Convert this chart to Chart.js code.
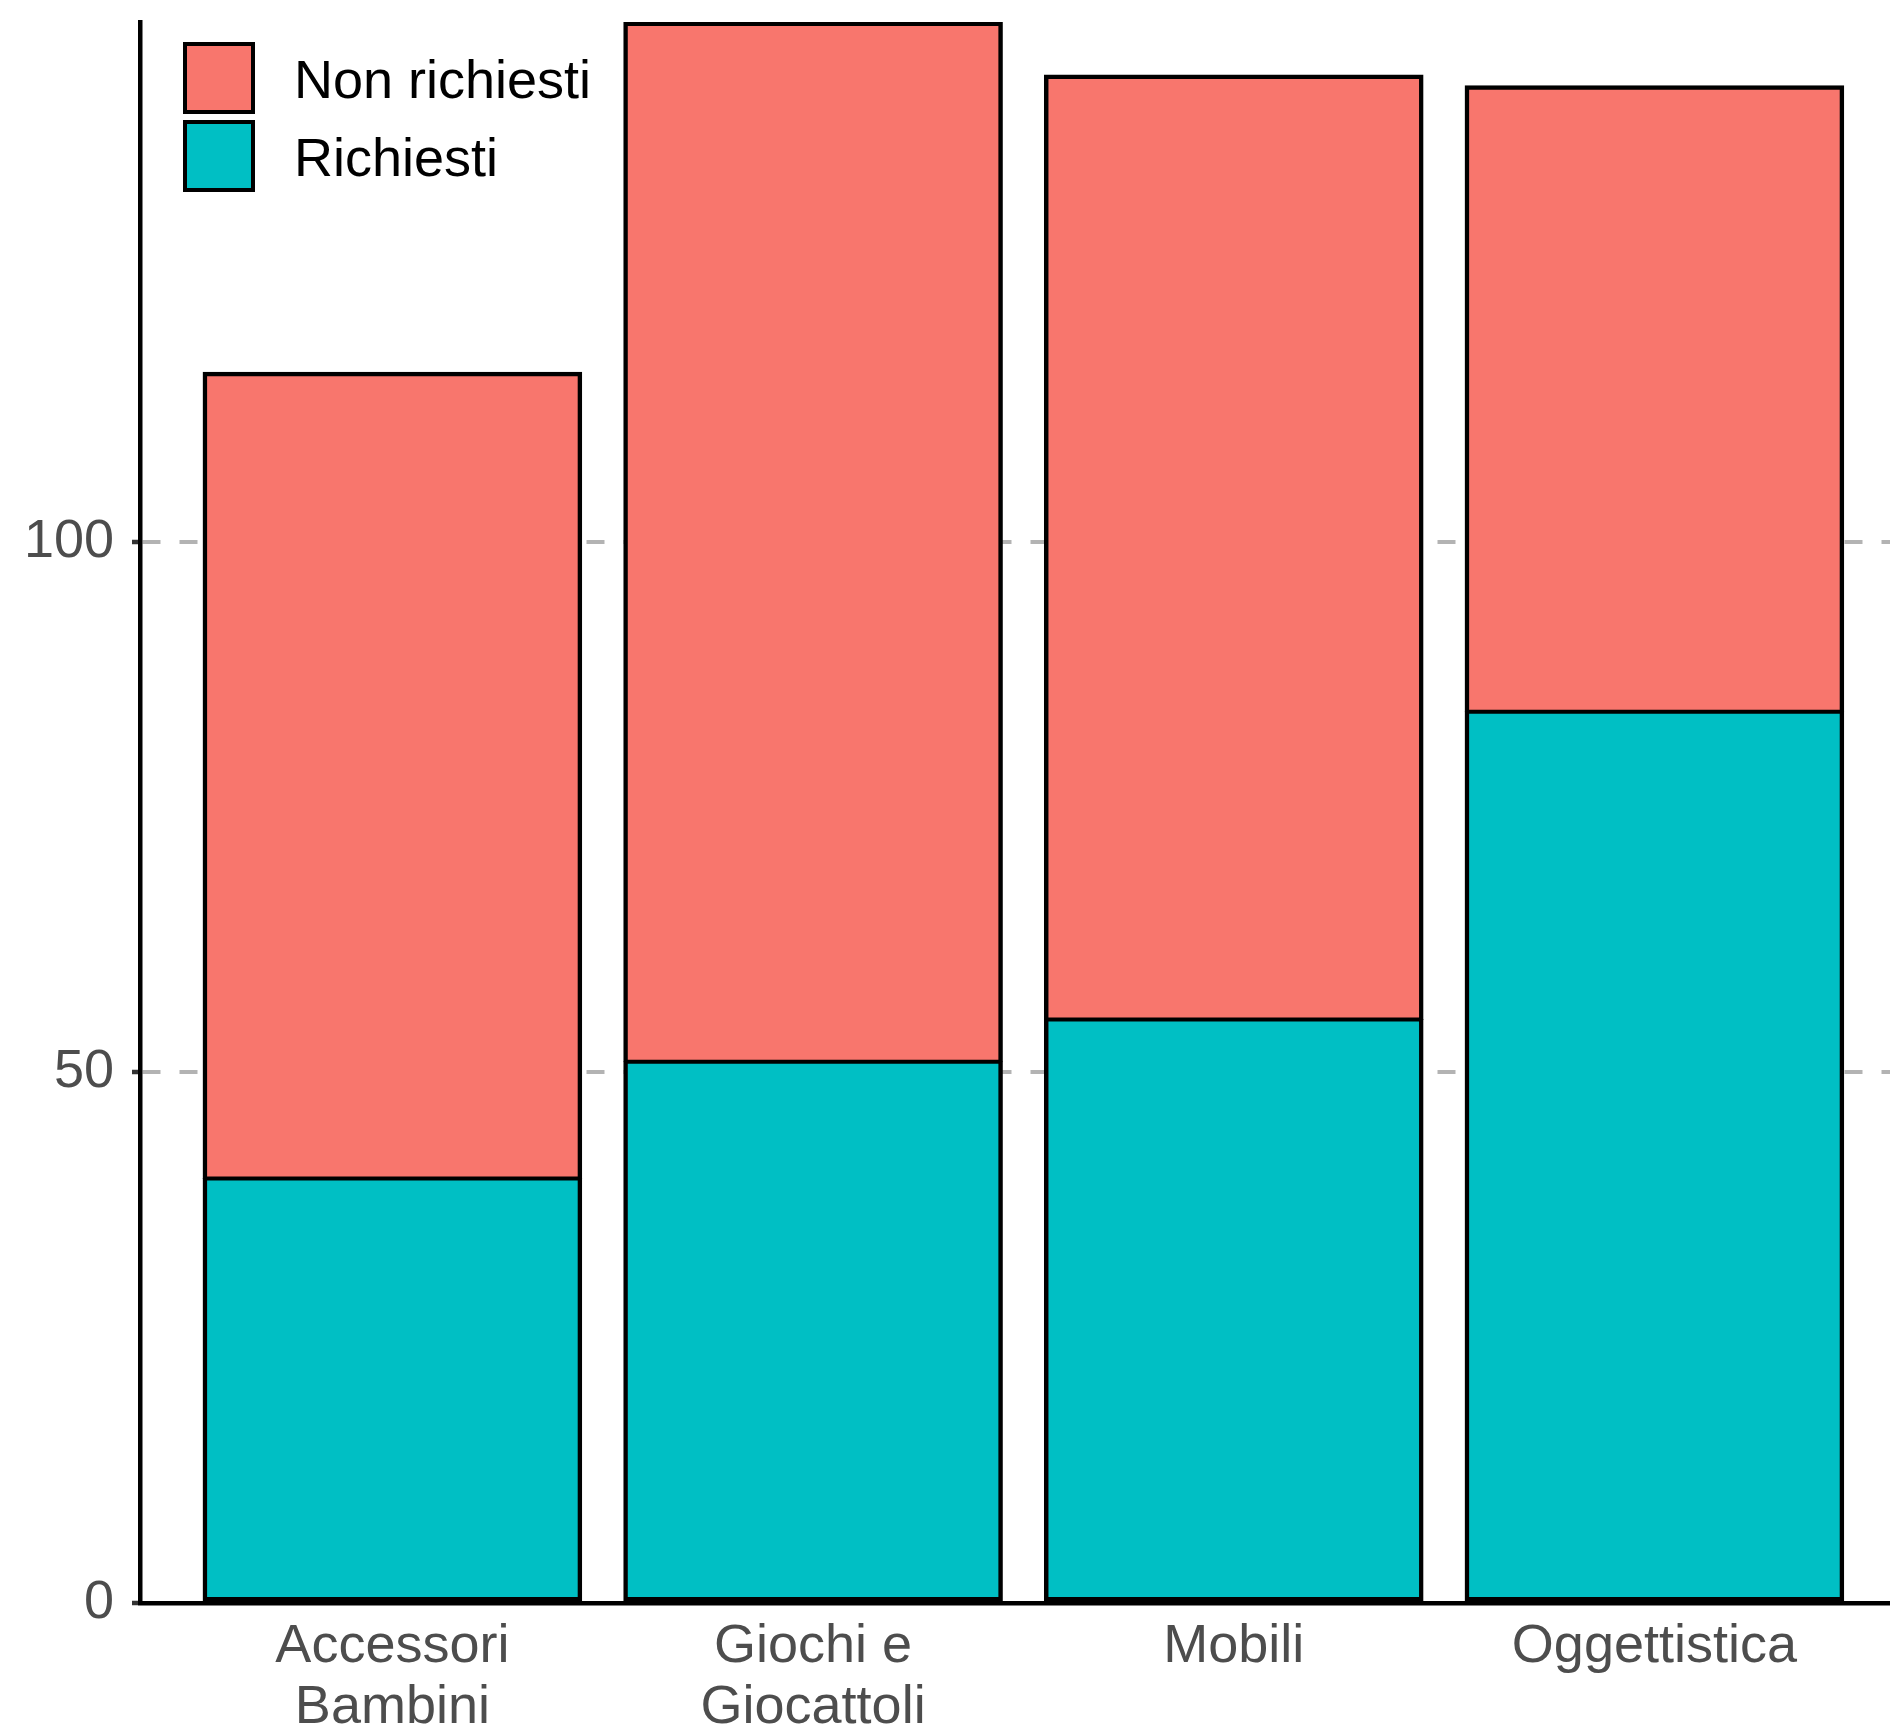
<!DOCTYPE html>
<html>
<head>
<meta charset="utf-8">
<script src="https://cdn.jsdelivr.net/npm/chart.js@4/dist/chart.umd.min.js"></script>
<style>
  body { margin: 0; background: #fff; }
  canvas { display: block; }
</style>
</head>
<body>
<canvas id="chart" width="1890" height="1729"></canvas>
<script>
// categories and their tick label lines
const categories = ['Accessori Bambini', 'Giochi e Giocattoli', 'Mobili', 'Oggettistica'];
const tickLabels = [['Accessori', 'Bambini'], ['Giochi e', 'Giocattoli'], ['Mobili'], ['Oggettistica']];
const positions = [1, 2, 3, 4];

// stacked values
const richiesti = [40, 51, 55, 84];
const nonRichiesti = [76, 98, 89, 59];

const yTicks = [0, 50, 100];

const FONT = "'Liberation Sans', Arial, Helvetica, sans-serif";

const toPoints = vals => vals.map((v, i) => ({ x: positions[i], y: v }));

// legend drawn inside the plot, top-left, like ggplot
const insideLegend = {
  id: 'insideLegend',
  afterDraw(chart) {
    const ctx = chart.ctx;
    const items = chart.data.datasets.slice().reverse();
    const x0 = 183, y0 = 42, size = 72, step = 78;
    ctx.save();
    ctx.font = '54px ' + FONT;
    ctx.textBaseline = 'alphabetic';
    ctx.textAlign = 'left';
    items.forEach((ds, i) => {
      const y = y0 + i * step;
      ctx.fillStyle = ds.backgroundColor;
      ctx.fillRect(x0, y, size, size);
      ctx.lineWidth = 4;
      ctx.strokeStyle = '#000';
      ctx.strokeRect(x0 + 2, y + 2, size - 4, size - 4);
      ctx.fillStyle = '#000';
      ctx.fillText(ds.label, 294, y + size / 2 + 20);
    });
    ctx.restore();
  }
};

new Chart(document.getElementById('chart'), {
  type: 'bar',
  data: {
    datasets: [
      {
        label: 'Richiesti',
        data: toPoints(richiesti),
        backgroundColor: '#00BFC4',
        borderColor: '#000',
        borderWidth: { top: 2.5, bottom: 4.5, left: 4.5, right: 4.5 },
        borderSkipped: false,
        inflateAmount: 0.5
      },
      {
        label: 'Non richiesti',
        data: toPoints(nonRichiesti),
        backgroundColor: '#F8766D',
        borderColor: '#000',
        borderWidth: { top: 4.5, bottom: 2.5, left: 4.5, right: 4.5 },
        borderSkipped: false,
        inflateAmount: 0.5
      }
    ]
  },
  options: {
    responsive: false,
    devicePixelRatio: 1,
    animation: false,
    categoryPercentage: 1,
    barPercentage: 0.9,
    layout: { padding: { top: 22, right: 0, left: 0, bottom: 0 } },
    plugins: {
      legend: { display: false },
      tooltip: { enabled: false }
    },
    scales: {
      x: {
        type: 'linear',
        offset: false,
        stacked: true,
        min: 0.4,
        max: 4.56,
        afterBuildTicks: s => { s.ticks = positions.map(v => ({ value: v })); },
        afterFit: s => { s.height = 126; s.paddingLeft = 0; s.paddingRight = 0; },
        grid: { display: false, drawTicks: false },
        border: { display: true, color: '#000', width: 4.5 },
        ticks: {
          autoSkip: false,
          maxRotation: 0,
          padding: 14,
          color: '#4D4D4D',
          font: { family: FONT, size: 54, lineHeight: 1.12 },
          callback: v => tickLabels[positions.indexOf(v)]
        }
      },
      y: {
        stacked: true,
        min: 0,
        max: 149,
        afterBuildTicks: s => { s.ticks = yTicks.map(v => ({ value: v })); },
        afterFit: s => { s.width = 140; s.paddingTop = 0; s.paddingBottom = 0; },
        grid: {
          color: c => (c.tick && c.tick.value === 0) ? 'rgba(0,0,0,0)' : '#B3B3B3',
          lineWidth: 4,
          tickColor: '#333333',
          tickLength: 8,
          tickWidth: 4.5,
          tickBorderDash: []
        },
        border: { display: true, color: '#000', width: 4.5, dash: [18, 19] },
        ticks: {
          padding: 18,
          color: '#4D4D4D',
          font: { family: FONT, size: 54 }
        }
      }
    }
  },
  plugins: [insideLegend]
});
</script>
</body>
</html>
